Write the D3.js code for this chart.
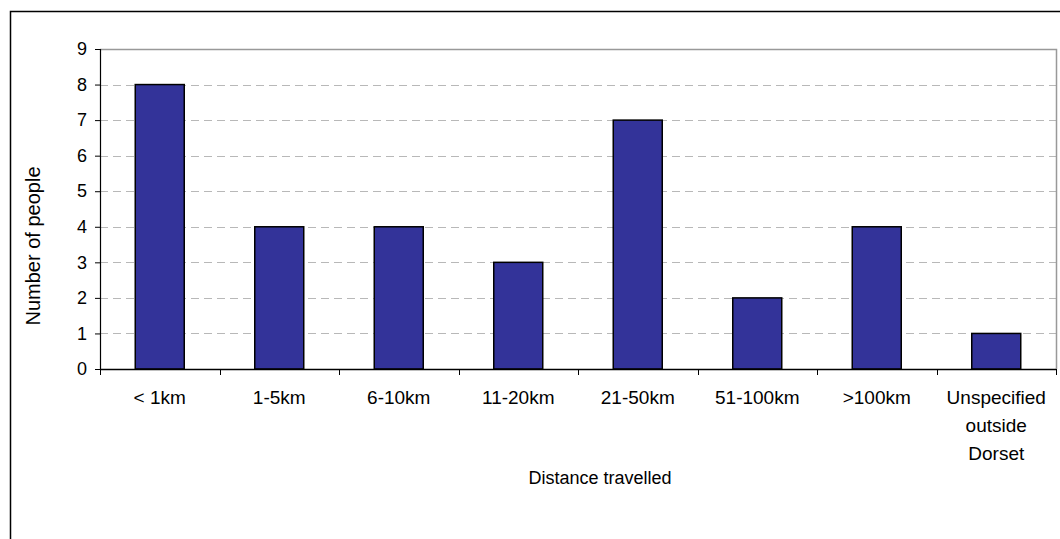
<!DOCTYPE html>
<html>
<head>
<meta charset="utf-8">
<script src="https://cdn.jsdelivr.net/npm/d3@7"></script>
<style>
  body { margin: 0; background: #fff; }
  svg { font-family: Arial, "Liberation Sans", sans-serif; }
</style>
</head>
<body>
<svg width="1060" height="539"></svg>
<script>
// Data
const categories = ["< 1km", "1-5km", "6-10km", "11-20km", "21-50km", "51-100km", ">100km", "Unspecified outside Dorset"];
const people = [8, 4, 4, 3, 7, 2, 4, 1];
const yTicks = [0, 1, 2, 3, 4, 5, 6, 7, 8, 9];

let svg = d3.select("svg");

// Plot area
const plotLeft = 100, plotRight = 1056, plotTop = 49, plotBottom = 369;

// outer chart border (runs off the right and bottom)
svg.append("rect")
    .attr("x", 10.5).attr("y", 11.5)
    .attr("width", 1070).attr("height", 560)
    .attr("fill", "none")
    .attr("stroke", "#000")
    .attr("stroke-width", 1.5);

let x = d3.scaleBand()
    .domain(categories)
    .range([plotLeft, plotRight])
    .paddingInner(0.59)
    .paddingOuter(0.295);

let y = d3.scaleLinear()
    .domain([0, 9])
    .range([plotBottom, plotTop]);

// gridlines
svg.append("g")
  .selectAll("line")
  .data(yTicks.filter(d => d > 0 && d < 9))
  .enter().append("line")
    .attr("x1", plotLeft).attr("x2", plotRight)
    .attr("y1", d => Math.round(y(d)) + 0.5)
    .attr("y2", d => Math.round(y(d)) + 0.5)
    .attr("stroke", "#b8b8b8")
    .attr("stroke-dasharray", "8,5");

// plot area top and right border
svg.append("path")
    .attr("d", `M${plotLeft},${plotTop + 0.5}H${plotRight + 0.5}V${plotBottom}`)
    .attr("fill", "none")
    .attr("stroke", "#999")
    .attr("stroke-width", 1.5);

// bars
svg.append("g")
  .selectAll("rect")
  .data(people)
  .enter().append("rect")
    .attr("x", (d, i) => x(categories[i]))
    .attr("y", d => y(d))
    .attr("width", x.bandwidth())
    .attr("height", d => y(0) - y(d))
    .attr("fill", "#333399")
    .attr("stroke", "#000")
    .attr("stroke-width", 1.5);

// y axis
let yAxis = svg.append("g")
    .attr("transform", `translate(${plotLeft},0)`)
    .call(d3.axisLeft(y).tickValues(yTicks).tickSize(5).tickPadding(8).tickFormat(d3.format("d")));
yAxis.select(".domain").attr("stroke", "#000").attr("stroke-width", 1.2);
yAxis.selectAll("text").attr("font-size", 18).attr("fill", "#000")
    .attr("font-family", "Arial, 'Liberation Sans', sans-serif");

// x axis: ticks at category boundaries
let bounds = categories.map((c, i) => plotLeft + i * (plotRight - plotLeft) / categories.length).concat([plotRight]);
svg.append("line")
    .attr("x1", plotLeft).attr("x2", plotRight)
    .attr("y1", plotBottom + 0.5).attr("y2", plotBottom + 0.5)
    .attr("stroke", "#000").attr("stroke-width", 1.5);
svg.append("g")
  .selectAll("line")
  .data(bounds)
  .enter().append("line")
    .attr("x1", d => Math.round(d) + 0.5).attr("x2", d => Math.round(d) + 0.5)
    .attr("y1", plotBottom).attr("y2", plotBottom + 6)
    .attr("stroke", "#000");

// x tick labels (wrap long one)
let labels = svg.append("g")
  .selectAll("text")
  .data(categories)
  .enter().append("text")
    .attr("x", d => x(d) + x.bandwidth() / 2)
    .attr("y", 404)
    .attr("text-anchor", "middle")
    .attr("font-size", 19)
    .attr("fill", "#000");
labels.each(function(d) {
  let words = d.startsWith("Unspecified") ? d.split(" ") : [d];
  let t = d3.select(this);
  words.forEach((w, i) => {
    t.append("tspan")
      .attr("x", t.attr("x"))
      .attr("dy", i === 0 ? 0 : 28)
      .text(w);
  });
});

// axis titles
svg.append("text")
    .attr("x", 600)
    .attr("y", 484)
    .attr("text-anchor", "middle")
    .attr("font-size", 18)
    .text("Distance travelled");

svg.append("text")
    .attr("transform", `translate(40,246) rotate(-90)`)
    .attr("text-anchor", "middle")
    .attr("font-size", 20)
    .text("Number of people");
</script>
</body>
</html>
